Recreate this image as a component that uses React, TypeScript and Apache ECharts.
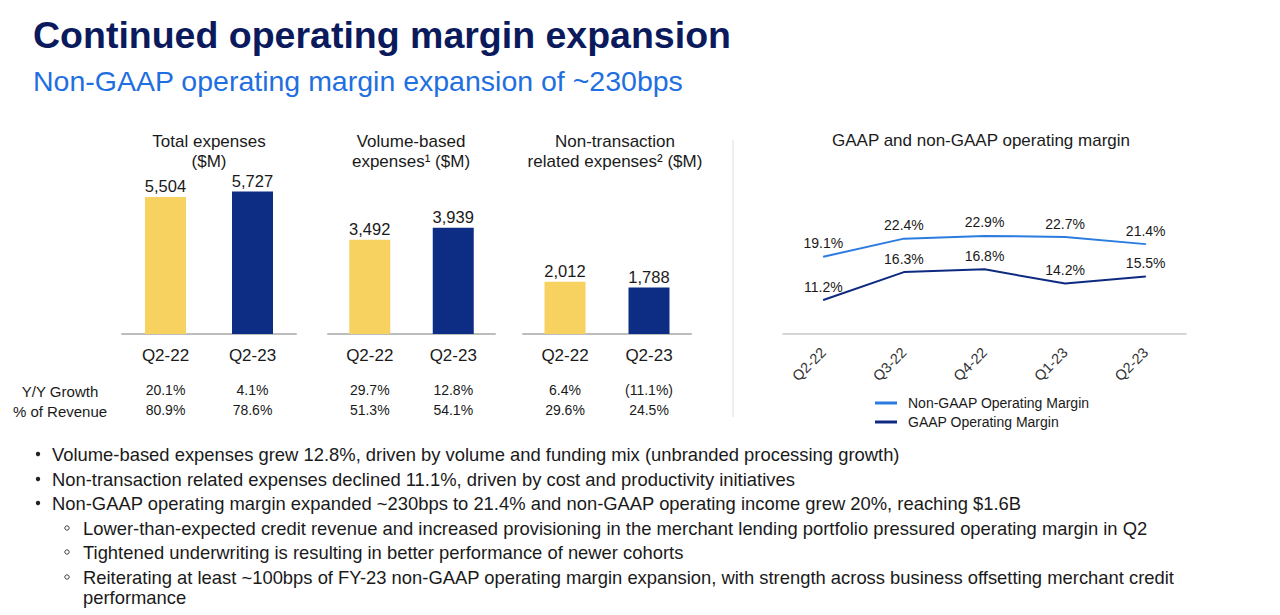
import React, { useEffect, useRef } from "react";
import * as echarts from "echarts";

const barCategories = ["Q2-22", "Q2-23"];
const totalExpenses = [5504, 5727];
const volumeExpenses = [3492, 3939];
const nonTxnExpenses = [2012, 1788];
const totalYoY = ["20.1%", "4.1%"];
const totalRev = ["80.9%", "78.6%"];
const volumeYoY = ["29.7%", "12.8%"];
const volumeRev = ["51.3%", "54.1%"];
const nonTxnYoY = ["6.4%", "(11.1%)"];
const nonTxnRev = ["29.6%", "24.5%"];

const lineCategories = ["Q2-22", "Q3-22", "Q4-22", "Q1-23", "Q2-23"];
const nonGaapMargin = [19.1, 22.4, 22.9, 22.7, 21.4];
const gaapMargin = [11.2, 16.3, 16.8, 14.2, 15.5];

const bullets = [
  { level: 0, text: "Volume-based expenses grew 12.8%, driven by volume and funding mix (unbranded processing growth)" },
  { level: 0, text: "Non-transaction related expenses declined 11.1%, driven by cost and productivity initiatives" },
  { level: 0, text: "Non-GAAP operating margin expanded ~230bps to 21.4% and non-GAAP operating income grew 20%, reaching $1.6B" },
  { level: 1, text: "Lower-than-expected credit revenue and increased provisioning in the merchant lending portfolio pressured operating margin in Q2" },
  { level: 1, text: "Tightened underwriting is resulting in better performance of newer cohorts" },
  { level: 1, text: "Reiterating at least ~100bps of FY-23 non-GAAP operating margin expansion, with strength across business offsetting merchant credit" },
  { level: 2, text: "performance" },
];

const FONT = "'Liberation Sans', Arial, sans-serif";
const YELLOW = "#F8D260";
const NAVY = "#0C2D83";
const TEXT = "#1a1a1a";

export default function App() {
  const ref = useRef<HTMLDivElement>(null);
  useEffect(() => {
    if (!ref.current) return;
    const chart = echarts.init(ref.current, undefined, { renderer: "svg" });

    const barPanels = [
      { data: totalExpenses, yoy: totalYoY, rev: totalRev, left: 122, width: 174, max: 7390 },
      { data: volumeExpenses, yoy: volumeYoY, rev: volumeRev, left: 328, width: 167, max: 6815 },
      { data: nonTxnExpenses, yoy: nonTxnYoY, rev: nonTxnRev, left: 523, width: 168, max: 7077 },
    ];

    const grids: any[] = barPanels.map((p) => ({ left: p.left, width: p.width, top: 150, height: 184 }));
    grids.push({ left: 783, width: 403, top: 197, height: 137 });

    const xAxes: any[] = barPanels.map((p, i) => ({
      type: "category",
      gridIndex: i,
      data: barCategories,
      axisTick: { show: false },
      axisLine: { lineStyle: { color: "#bdbdbd", width: 2 } },
      axisLabel: {
        margin: 10,
        interval: 0,
        formatter: (v: string, idx: number) => `{q|${v}}\n{sp|}\n{v|${p.yoy[idx]}}\n{v|${p.rev[idx]}}`,
        rich: {
          q: { fontSize: 17, lineHeight: 22, color: TEXT, fontFamily: FONT },
          sp: { lineHeight: 14, fontSize: 10 },
          v: { fontSize: 14, lineHeight: 20, color: TEXT, fontFamily: FONT },
        },
      },
    }));
    xAxes.push({
      type: "category",
      gridIndex: 3,
      data: lineCategories,
      axisTick: { show: false },
      axisLine: { lineStyle: { color: "#c8c8c8", width: 1.5 } },
      axisLabel: { rotate: 45, margin: 16, fontSize: 14.5, color: "#333", fontFamily: FONT, interval: 0 },
    });

    const yAxes: any[] = barPanels.map((p, i) => ({
      type: "value",
      gridIndex: i,
      min: 0,
      max: p.max,
      show: false,
      splitLine: { show: false },
    }));
    yAxes.push({ type: "value", gridIndex: 3, min: 5, max: 30, show: false, splitLine: { show: false } });

    const series: any[] = barPanels.map((p, i) => ({
      type: "bar",
      xAxisIndex: i,
      yAxisIndex: i,
      barWidth: 41,
      data: p.data.map((v, j) => ({ value: v, itemStyle: { color: j === 0 ? YELLOW : NAVY } })),
      label: {
        show: true,
        position: "top",
        distance: 2,
        fontSize: 16.5,
        color: TEXT,
        fontFamily: FONT,
        formatter: (d: any) => d.value.toLocaleString("en-US"),
      },
    }));
    const lineLabel = {
      show: true,
      position: "top",
      distance: 6,
      fontSize: 14,
      color: TEXT,
      fontFamily: FONT,
      formatter: (d: any) => d.value.toFixed(1) + "%",
    };
    series.push({
      name: "Non-GAAP Operating Margin",
      type: "line",
      xAxisIndex: 3,
      yAxisIndex: 3,
      data: nonGaapMargin,
      symbol: "circle",
      symbolSize: 1,
      showSymbol: true,
      lineStyle: { color: "#2B7BE0", width: 2 },
      itemStyle: { color: "#2B7BE0" },
      label: lineLabel,
    });
    series.push({
      name: "GAAP Operating Margin",
      type: "line",
      xAxisIndex: 3,
      yAxisIndex: 3,
      data: gaapMargin,
      symbol: "circle",
      symbolSize: 1,
      showSymbol: true,
      lineStyle: { color: "#0E2A80", width: 2 },
      itemStyle: { color: "#0E2A80" },
      label: lineLabel,
    });

    const graphic: any[] = [
      { type: "text", x: 33, y: 35, style: { text: "Continued operating margin expansion", fontSize: 37.5, fontWeight: "bold", fill: "#0A1A5C", fontFamily: FONT, textVerticalAlign: "middle" } },
      { type: "text", x: 33, y: 81, style: { text: "Non-GAAP operating margin expansion of ~230bps", fontSize: 28.5, fill: "#1F6FE0", fontFamily: FONT, textVerticalAlign: "middle" } },
      { type: "text", x: 209, y: 131, style: { text: "Total expenses\n($M)", fontSize: 17, lineHeight: 20, fill: TEXT, fontFamily: FONT, textAlign: "center" } },
      { type: "text", x: 411, y: 131, style: { text: "Volume-based\nexpenses\u00B9 ($M)", fontSize: 17, lineHeight: 20, fill: TEXT, fontFamily: FONT, textAlign: "center" } },
      { type: "text", x: 615, y: 131, style: { text: "Non-transaction\nrelated expenses\u00B2 ($M)", fontSize: 17, lineHeight: 20, fill: TEXT, fontFamily: FONT, textAlign: "center" } },
      { type: "text", x: 60, y: 391, style: { text: "Y/Y Growth", fontSize: 15, fill: TEXT, fontFamily: FONT, textAlign: "center", textVerticalAlign: "middle" } },
      { type: "text", x: 60, y: 411, style: { text: "% of Revenue", fontSize: 15, fill: TEXT, fontFamily: FONT, textAlign: "center", textVerticalAlign: "middle" } },
      { type: "line", shape: { x1: 733, y1: 140, x2: 733, y2: 417 }, style: { stroke: "#dcdcdc", lineWidth: 1 } },
      { type: "text", x: 981, y: 140, style: { text: "GAAP and non-GAAP operating margin", fontSize: 17, fill: TEXT, fontFamily: FONT, textAlign: "center", textVerticalAlign: "middle" } },
    ];
    const bulletYs = [454, 479, 503, 528, 552, 577, 597];
    bullets.forEach((b, i) => {
      const y = bulletYs[i];
      const tx = b.level === 0 ? 52 : 83;
      if (b.level === 0) {
        graphic.push({ type: "circle", shape: { cx: 38, cy: y, r: 2.2 }, style: { fill: "#222" } });
      } else if (b.level === 1) {
        graphic.push({ type: "circle", shape: { cx: 67, cy: y, r: 2.2 }, style: { fill: "none", stroke: "#444", lineWidth: 1 } });
      }
      graphic.push({ type: "text", x: tx, y, style: { text: b.text, fontSize: 18.4, fill: TEXT, fontFamily: FONT, textVerticalAlign: "middle" } });
    });

    chart.setOption({
      animation: false,
      backgroundColor: "#ffffff",
      grid: grids,
      xAxis: xAxes,
      yAxis: yAxes,
      series,
      legend: {
        data: ["Non-GAAP Operating Margin", "GAAP Operating Margin"],
        orient: "vertical",
        left: 875,
        top: 396,
        padding: 0,
        itemGap: 5,
        itemWidth: 22,
        itemHeight: 3,
        icon: "rect",
        textStyle: { fontSize: 14, color: TEXT, fontFamily: FONT, padding: [0, 0, 0, 6] },
      },
      graphic,
    });
    return () => chart.dispose();
  }, []);
  return <div ref={ref} style={{ position: "absolute", left: 0, top: 0, width: 1280, height: 615 }} />;
}
